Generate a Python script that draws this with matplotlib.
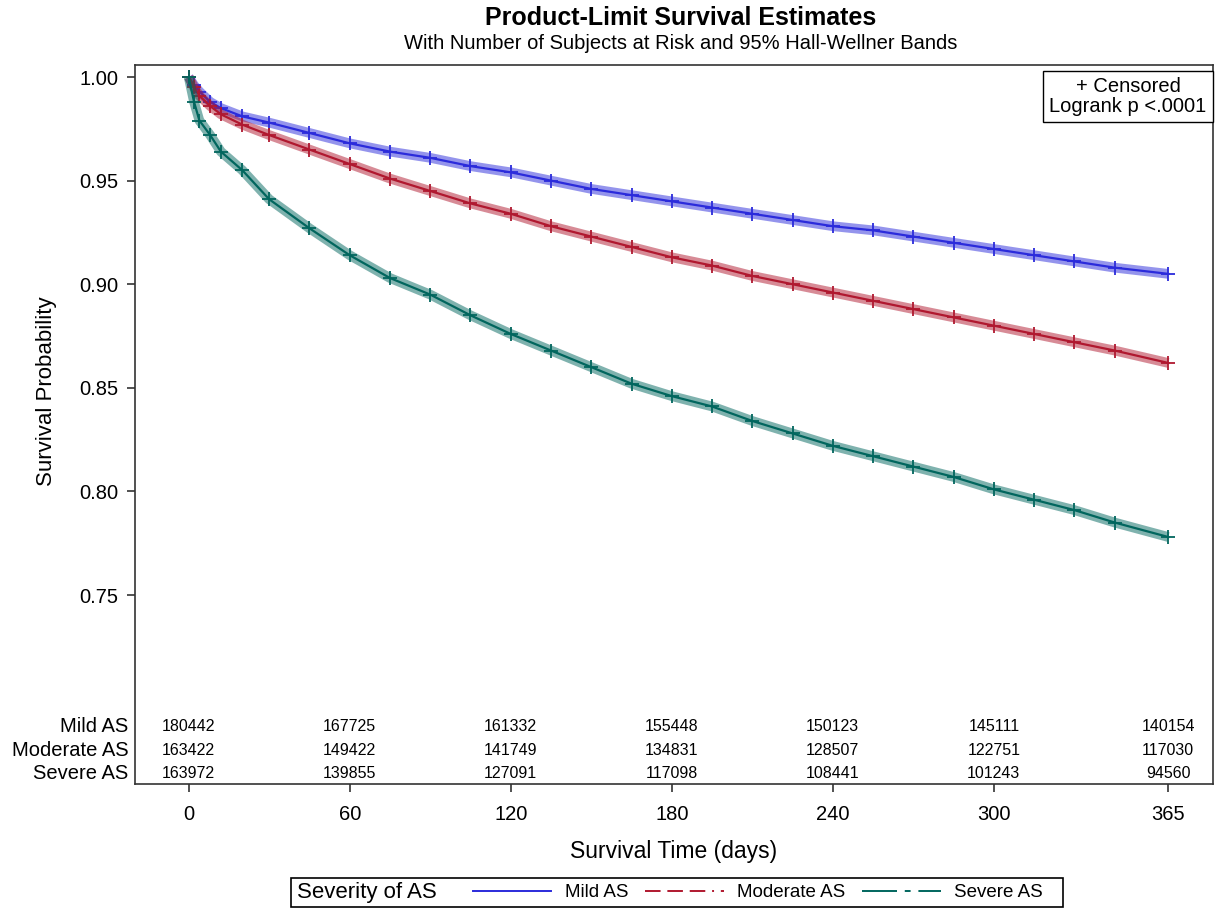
import matplotlib
matplotlib.use("Agg")
import matplotlib.pyplot as plt
from matplotlib.lines import Line2D
from matplotlib.patches import Rectangle
import matplotlib.transforms as mtransforms

plt.rcParams["font.family"] = ["Liberation Sans", "DejaVu Sans"]

# survival estimates (days -> probability)
days = [0, 2, 4, 8, 12, 20, 30, 45, 60, 75, 90, 105, 120, 135, 150, 165, 180,
        195, 210, 225, 240, 255, 270, 285, 300, 315, 330, 345, 365]
mild = [1.000, 0.996, 0.993, 0.988, 0.985, 0.981, 0.978, 0.973, 0.968, 0.964,
        0.961, 0.957, 0.954, 0.950, 0.946, 0.943, 0.940, 0.937, 0.934, 0.931,
        0.928, 0.926, 0.923, 0.920, 0.917, 0.914, 0.911, 0.908, 0.905]
moderate = [1.000, 0.995, 0.991, 0.986, 0.982, 0.977, 0.972, 0.965, 0.958, 0.951,
            0.945, 0.939, 0.934, 0.928, 0.923, 0.918, 0.913, 0.909, 0.904, 0.900,
            0.896, 0.892, 0.888, 0.884, 0.880, 0.876, 0.872, 0.868, 0.862]
severe = [1.000, 0.988, 0.979, 0.972, 0.964, 0.955, 0.941, 0.927, 0.914, 0.903,
          0.895, 0.885, 0.876, 0.868, 0.860, 0.852, 0.846, 0.841, 0.834, 0.828,
          0.822, 0.817, 0.812, 0.807, 0.801, 0.796, 0.791, 0.785, 0.778]

groups = ["Mild AS", "Moderate AS", "Severe AS"]
colors = ["#2B2BDB", "#B0182F", "#01665E"]
dashes = ["-", (0, (8, 3.5, 8, 3.5, 8, 3.5, 1, 3.5)), (0, (18, 4, 3, 4))]

# number at risk table
risk_days = [0, 60, 120, 180, 240, 300, 365]
risk_mild = [180442, 167725, 161332, 155448, 150123, 145111, 140154]
risk_moderate = [163422, 149422, 141749, 134831, 128507, 122751, 117030]
risk_severe = [163972, 139855, 127091, 117098, 108441, 101243, 94560]

fig = plt.figure(figsize=(12.15, 9.09), dpi=100)
ax = fig.add_axes([0.1111, 0.1375, 0.8869, 0.791])

for vals, col, name in zip([mild, moderate, severe], colors, groups):
    # wide pale stroke to mimic the dense band of censoring marks
    ax.plot(days, vals, color=col, lw=7, alpha=0.5, solid_capstyle="butt")
    ax.plot(days, vals, color=col, lw=1.6, label=name)
    ax.plot(days, vals, ls="none", marker="+", ms=10, mew=1.3, color=col)

ax.set_xlim(-20, 381.5)
ax.set_ylim(0.6588, 1.0058)
ax.set_xticks(risk_days)
ax.set_yticks([0.75, 0.80, 0.85, 0.90, 0.95, 1.00])
ax.set_yticklabels(["0.75", "0.80", "0.85", "0.90", "0.95", "1.00"])
ax.tick_params(direction="out", length=6, width=1.2, labelsize=14.5, color="#333333")
ax.tick_params(axis="x", pad=9)
ax.tick_params(axis="y", pad=6)
for sp in ax.spines.values():
    sp.set_linewidth(1.2)
    sp.set_color("#333333")

ax.set_xlabel("Survival Time (days)", fontsize=16.5)
ax.xaxis.set_label_coords(0.5, -0.078)
ax.set_ylabel("Survival Probability", fontsize=16)
ax.yaxis.set_label_coords(-0.072, 0.547)

fig.text(0.56, 0.98, "Product-Limit Survival Estimates", ha="center", va="center",
         fontsize=18, fontweight="bold")
fig.text(0.56, 0.952, "With Number of Subjects at Risk and 95% Hall-Wellner Bands",
         ha="center", va="center", fontsize=14.5)

# risk table inside the axes
trans = mtransforms.blended_transform_factory(ax.transData, ax.transAxes)
row_y = [0.0793, 0.0473, 0.0153]
for yy, name, counts in zip(row_y, groups, [risk_mild, risk_moderate, risk_severe]):
    for d, c in zip(risk_days, counts):
        ax.text(d, yy, str(c), transform=trans, ha="center", va="center", fontsize=11.5)
    ax.text(-0.006, yy, name, transform=ax.transAxes, ha="right", va="center", fontsize=14.5)

# censored / logrank box
ax.text(0.9945, 0.983, "+ Censored\nLogrank p <.0001", transform=ax.transAxes,
        ha="right", va="top", fontsize=14.5, linespacing=1.05, multialignment="center",
        bbox=dict(boxstyle="square,pad=0.32", fc="white", ec="black", lw=1))

# bottom legend
fig.patches.append(Rectangle((0.2395, 0.0022), 0.6355, 0.0318, transform=fig.transFigure,
                             fill=False, ec="black", lw=1.2))
fig.text(0.2445, 0.0181, "Severity of AS", ha="left", va="center", fontsize=16)
handles = [Line2D([], [], color=c, lw=1.4, ls=l) for c, l in zip(colors, dashes)]
fig.legend(handles, groups, loc="center left", bbox_to_anchor=(0.389, 0.0181), ncol=3,
           frameon=False, fontsize=13.5, handlelength=4.2, handletextpad=0.7,
           columnspacing=0.9, borderpad=0, borderaxespad=0)

fig.savefig("out.png", dpi=100)
